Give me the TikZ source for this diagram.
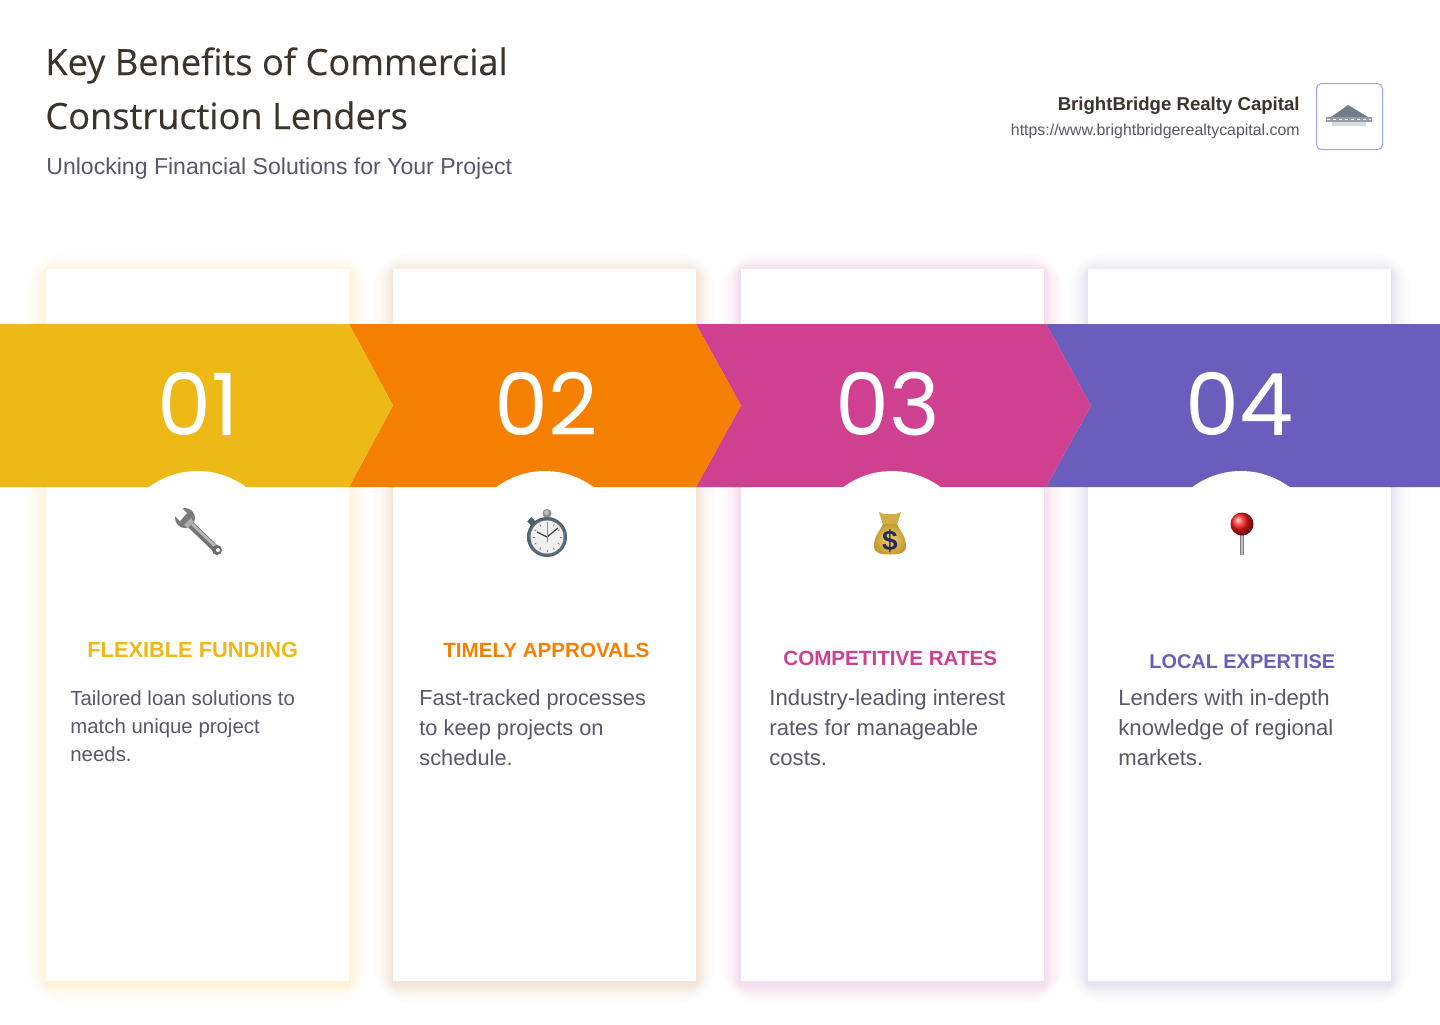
\documentclass[tikz,border=0pt]{standalone}
\usepackage{fontspec}
\setmainfont{Liberation Sans}
\newfontfamily\titlefont{Open Sans}[FakeBold=0.2]
\newfontfamily\numfont{Poppins}
\usetikzlibrary{shadings}

\definecolor{inkdark}{HTML}{3A342D}
\definecolor{inkgrey}{HTML}{5A5868}
\definecolor{bandyellow}{HTML}{EDB916}
\definecolor{bandorange}{HTML}{F57F00}
\definecolor{bandpink}{HTML}{D04091}
\definecolor{bandpurple}{HTML}{6B5DBB}
\definecolor{glowyellow}{HTML}{FFB000}
\definecolor{glowpink}{HTML}{F040A0}
\definecolor{baggold}{HTML}{F0D870}
\definecolor{bagedge}{HTML}{C49A30}
\definecolor{logoslate}{HTML}{4E5E6C}

\tikzset{
  cardbox/.style={fill=white, minimum width=151.5pt, minimum height=356pt, inner sep=0},
  capcircle/.style={circle, fill=white, minimum size=81.5pt, inner sep=0},
  numtext/.style={text=white, inner sep=0, anchor=base, font=\numfont\fontsize{43}{46}\selectfont},
  headtext/.style={inner sep=0, anchor=base west, font=\bfseries\fontsize{#1}{12}\selectfont},
  bodytext/.style={inner sep=0, anchor=north west, align=left, text=inkgrey, font=\fontsize{#1}{15}\selectfont},
  bodysmall/.style={bodytext=10.2, font=\fontsize{10.2}{14}\selectfont},
  wrenchicon/.pic={
    \fill[black!52] (-13,-14) circle (10);
    \fill[black!32] (-14,-7) -- (-7,-14) -- (-4,-10) -- (-10,-4) -- cycle;
    \fill[white] (-26,-19) -- (-19,-27) -- (-11,-19) -- (-18,-11) -- cycle;
    \draw[line width=3.6pt, black!55] (-7,-7) -- (19,18);
    \draw[line width=1.4pt, black!28] (-6,-8) -- (18,15);
    \fill[black!58] (19,18) circle (5);
    \fill[white] (20,18) circle (2);
  },
  watchicon/.pic={
    \fill[black!45] (0,-23.5) circle (4.5);
    \fill[black!25] (-0.5,-24.5) circle (2.5);
    \fill[logoslate, rotate=45] (-3,-25) rectangle (3,-19);
    \shade[inner color=black!20, outer color=logoslate] (0,0) circle (20);
    \fill[black!6] (0,0) circle (16.5);
    \foreach \a in {0,30,...,330}
      \draw[black!50, line width=0.4pt] (\a:12.5) -- (\a:14.5);
    \draw[black!75, line width=0.6pt] (-10,-5) -- (0,0) -- (11,-9);
    \draw[orange!90!red, line width=0.5pt] (0,-15) -- (0,5);
  },
  bagicon/.pic={
    \fill[bagedge!70!baggold] (-11,-23) -- (-6,-21) -- (6,-21) -- (11,-23) -- (7,-10) -- (-7,-10) -- cycle;
    \shade[inner color=baggold, outer color=bagedge] (-7,-11) .. controls (-9,-5) and (-16,0) .. (-16,11) .. controls (-16,18) and (-10,19.5) .. (0,19.5) .. controls (10,19.5) and (16,18) .. (16,11) .. controls (16,0) and (9,-5) .. (7,-11) -- cycle;
    \node[inner sep=0, text=inkdark!80!blue, font=\bfseries\fontsize{14}{14}\selectfont] (bagsign) at (0,6) {\$};
  },
  pinicon/.pic={
    \fill[black!50] (-2,4) rectangle (2,31);
    \fill[black!25] (-0.6,4) rectangle (0.6,31);
    \shade[ball color=red!90!white] (0,0) circle (11.5);
  }
}

% soft coloured glow round one card
\newcommand{\cardglow}[2]{%
  \foreach \r in {1,2,3,4,5,6,7,8,10,12,14,17,20}
    \fill[#2, opacity=.013, rounded corners=\r pt] (#1-\r,272-\r) rectangle (#1+303+\r,984+\r);
}

\begin{document}
\begin{tikzpicture}[x=0.5pt, y=-0.5pt]
\useasboundingbox (0,0) rectangle (1440,1024);
\fill[white] (0,0) rectangle (1440,1024);

% Header:
\node[inner sep=0, anchor=base west, text=inkdark, font=\titlefont\fontsize{18.1}{18}\selectfont] (title1) at (45,75) {Key Benefits of Commercial};
\node[inner sep=0, anchor=base west, text=inkdark, font=\titlefont\fontsize{18.1}{18}\selectfont] (title2) at (45,129) {Construction Lenders};
\node[inner sep=0, anchor=base west, text=inkgrey, font=\fontsize{11.53}{12}\selectfont] (subtitle) at (46,174) {Unlocking Financial Solutions for Your Project};
\node[inner sep=0, anchor=base east, text=inkdark, font=\bfseries\fontsize{9.3}{12}\selectfont] (brand) at (1300,110) {BrightBridge Realty Capital};
\node[inner sep=0, anchor=base east, text=inkgrey, font=\fontsize{7.94}{10}\selectfont] (brandurl) at (1300,135) {https://www.brightbridgerealtycapital.com};
\node[draw=bandpurple!45!blue!45, fill=white, line width=0.5pt, rounded corners=2.5pt, minimum size=33pt, inner sep=0] (logobox) at (1349.5,116.5) {};
\fill[logoslate!80] (1348,105) -- (1368,117) -- (1331,117) -- cycle;
\fill[logoslate!60] (1326,117) rectangle (1372,122);
\fill[logoslate!22] (1332,122) rectangle (1366,126);
\draw[white, line width=0.4pt, dash pattern=on 1.5pt off 1.5pt] (1327,119.5) -- (1371,119.5);

% Cards:
\cardglow{46}{glowyellow}
\cardglow{393}{bandorange}
\cardglow{741}{glowpink}
\cardglow{1088}{bandpurple}
\node[cardbox] (card1) at (197.5,625) {};
\node[cardbox] (card2) at (544.5,625) {};
\node[cardbox] (card3) at (892.5,625) {};
\node[cardbox] (card4) at (1239.5,625) {};

% Band:
\fill[bandpurple] (1046,324) -- (1440,324) -- (1440,487) -- (1046,487) -- (1091,405.5) -- cycle;
\fill[bandpink] (696,324) -- (1046,324) -- (1091,405.5) -- (1046,487) -- (696,487) -- (741,405.5) -- cycle;
\fill[bandorange] (349,324) -- (696,324) -- (741,405.5) -- (696,487) -- (349,487) -- (393,405.5) -- cycle;
\fill[bandyellow] (0,324) -- (349,324) -- (393,405.5) -- (349,487) -- (0,487) -- cycle;

\node[capcircle] (cap1) at (197.5,552.5) {};
\node[capcircle] (cap2) at (545,552.5) {};
\node[capcircle] (cap3) at (892,552.5) {};
\node[capcircle] (cap4) at (1241,552.5) {};

\node[numtext] (num1) at (198,435) {01};
\node[numtext] (num2) at (546,435) {02};
\node[numtext] (num3) at (887.5,435) {03};
\node[numtext] (num4) at (1240,435) {04};

% Icons:
\pic at (198,532) {wrenchicon};
\pic at (547,537) {watchicon};
\pic at (890,535) {bagicon};
\pic at (1242,524) {pinicon};

% Texts:
\node[headtext=10.9, text=bandyellow] (head1) at (87,657.5) {FLEXIBLE FUNDING};
\node[headtext=10.3, text=bandorange] (head2) at (443,657.5) {TIMELY APPROVALS};
\node[headtext=10.3, text=bandpink] (head3) at (783,665.5) {COMPETITIVE RATES};
\node[headtext=9.95, text=bandpurple] (head4) at (1149,668.5) {LOCAL EXPERTISE};
\node[bodysmall] (text1) at (70,690) {Tailored loan solutions to\\match unique project\\needs.};
\node[bodytext=10.9] (text2) at (419,689) {Fast-tracked processes\\to keep projects on\\schedule.};
\node[bodytext=11.05] (text3) at (769,689) {Industry-leading interest\\rates for manageable\\costs.};
\node[bodytext=11.05] (text4) at (1118,689) {Lenders with in-depth\\knowledge of regional\\markets.};
\end{tikzpicture}
\end{document}
